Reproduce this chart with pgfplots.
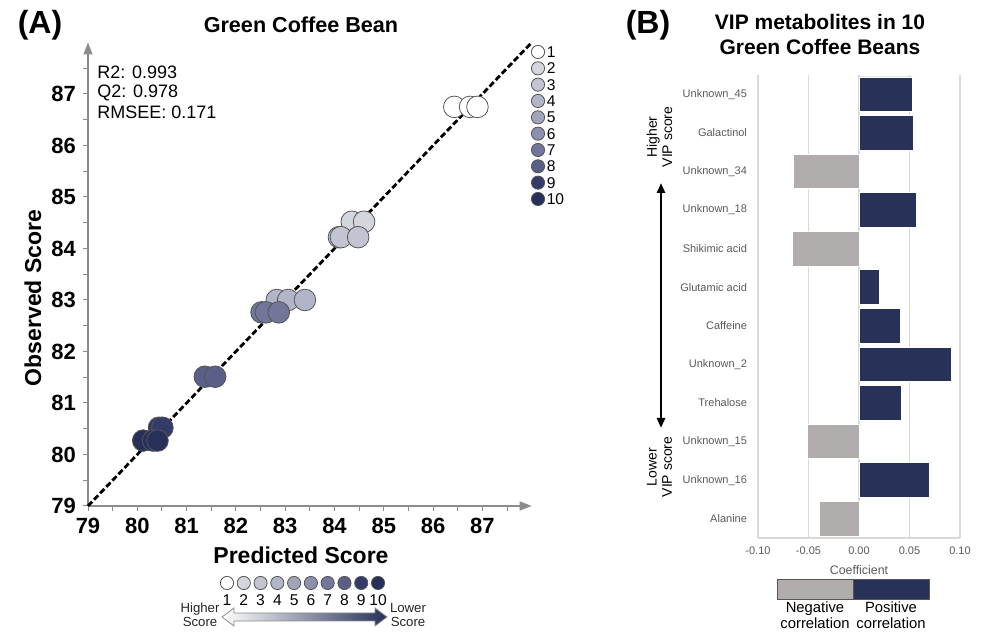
\documentclass[border=0pt]{standalone}
\usepackage{pgfplots}
\pgfplotsset{compat=1.18}
\usepackage{fontspec}
\setmainfont{Liberation Sans}
\usetikzlibrary{arrows.meta}

\definecolor{c1}{HTML}{FFFFFF}
\definecolor{c2}{HTML}{D3D5DF}
\definecolor{c3}{HTML}{C2C4D2}
\definecolor{c4}{HTML}{B2B5C7}
\definecolor{c5}{HTML}{A2A5BA}
\definecolor{c6}{HTML}{8D90AA}
\definecolor{c7}{HTML}{72769A}
\definecolor{c8}{HTML}{5A5F87}
\definecolor{c9}{HTML}{343B68}
\definecolor{c10}{HTML}{263059}
\definecolor{navy}{HTML}{283157}
\definecolor{negray}{HTML}{B0ADAC}
\definecolor{axgray}{HTML}{8C8C8C}
\definecolor{gridgray}{HTML}{D9D9D9}
\definecolor{labgray}{HTML}{595959}
\definecolor{circgray}{HTML}{555555}

\begin{document}
\begin{tikzpicture}
\path (0,0) rectangle (490.5pt,315pt);

% ---------------- Panel A ----------------
\begin{axis}[
  at={(44pt,62pt)}, anchor=south west, scale only axis,
  width=221.85pt, height=231.75pt,
  xmin=79, xmax=88, ymin=79, ymax=88,
  axis lines=left,
  axis line style={draw=axgray, line width=0.6pt, -{Triangle[length=6pt,width=4.5pt]}},
  xtick={79,...,87}, ytick={79,...,87},
  minor xtick={79.5,80.5,...,87.5}, minor ytick={79.5,80.5,...,87.5},
  tick align=outside,
  major tick length=2.5pt, minor tick length=2.5pt,
  every tick/.style={draw=axgray, line width=0.5pt},
  every minor tick/.style={draw=axgray, line width=0.5pt},
  ticklabel style={font=\fontsize{11}{12}\selectfont\bfseries, text=black},
  /pgf/number format/assume math mode=true,
  clip=false,
]
\addplot[only marks, mark=*, mark size=5.4pt, mark options={fill=white, draw=circgray, line width=0.4pt}]
  coordinates {(86.43,86.75) (86.75,86.75) (86.90,86.75)};
\addplot[black, line width=1.4pt, dash pattern=on 3pt off 1.4pt] coordinates {(79,79) (88,88)};
\addplot[only marks, mark=*, mark size=5.4pt, mark options={fill=c2, draw=circgray, line width=0.4pt}]
  coordinates {(84.35,84.52) (84.60,84.52)};
\addplot[only marks, mark=*, mark size=5.4pt, mark options={fill=c3, draw=circgray, line width=0.4pt}]
  coordinates {(84.09,84.22) (84.13,84.22) (84.48,84.22)};
\addplot[only marks, mark=*, mark size=5.4pt, mark options={fill=c4, draw=circgray, line width=0.4pt}]
  coordinates {(82.83,83.0) (83.06,83.0) (83.40,83.0)};
\addplot[only marks, mark=*, mark size=5.4pt, mark options={fill=c7, draw=circgray, line width=0.4pt}]
  coordinates {(82.52,82.76) (82.61,82.76) (82.87,82.76)};
\addplot[only marks, mark=*, mark size=5.4pt, mark options={fill=c8, draw=circgray, line width=0.4pt}]
  coordinates {(81.37,81.51) (81.58,81.51)};
\addplot[only marks, mark=*, mark size=5.4pt, mark options={fill=c9, draw=circgray, line width=0.4pt}]
  coordinates {(80.44,80.52) (80.51,80.52)};
\addplot[only marks, mark=*, mark size=5.4pt, mark options={fill=c10, draw=circgray, line width=0.4pt}]
  coordinates {(80.12,80.27) (80.32,80.27) (80.41,80.27)};
\end{axis}

% statistics text
\node[anchor=west, font=\fontsize{9}{10}\selectfont, inner sep=0pt] at (48.5pt,279pt) {R2: 0.993};
\node[anchor=west, font=\fontsize{9}{10}\selectfont, inner sep=0pt] at (48.5pt,268.5pt) {Q2: 0.978};
\node[anchor=west, font=\fontsize{9}{10}\selectfont, inner sep=0pt] at (48.5pt,259pt) {RMSEE: 0.171};

% titles and labels
\node[font=\fontsize{16}{18}\selectfont\bfseries] at (20pt,302.5pt) {(A)};
\node[font=\fontsize{16}{18}\selectfont\bfseries] at (324pt,302.5pt) {(B)};
\node[font=\fontsize{10.8}{12}\selectfont\bfseries] at (150.5pt,302.5pt) {Green Coffee Bean};
\node[font=\fontsize{11.5}{13}\selectfont\bfseries] at (150.5pt,37.5pt) {Predicted Score};
\node[font=\fontsize{11.5}{13}\selectfont\bfseries, rotate=90] at (16.5pt,166pt) {Observed Score};

% vertical class legend
\begin{axis}[
  at={(264pt,289pt)}, anchor=north west, scale only axis,
  width=10pt, height=73.5pt, xmin=0, xmax=1, ymin=1, ymax=10, y dir=reverse,
  hide axis, clip=false,
]
\pgfplotsinvokeforeach{1,...,10}{
  \addplot[only marks, mark=*, mark size=3.3pt, mark options={fill=c#1, draw=circgray, line width=0.4pt}] coordinates {(0.5,#1)};
  \node[anchor=west, inner sep=0pt, font=\fontsize{7.8}{8}\selectfont] at (axis cs:0.5,#1) [xshift=4.2pt] {#1};
}
\end{axis}

% horizontal class legend
\begin{axis}[
  at={(113.5pt,23.5pt)}, anchor=west, scale only axis,
  width=75.5pt, height=2pt, xmin=1, xmax=10, ymin=0, ymax=1,
  hide axis, clip=false,
]
\pgfplotsinvokeforeach{1,...,10}{
  \addplot[only marks, mark=*, mark size=3.3pt, mark options={fill=c#1, draw=circgray, line width=0.4pt}] coordinates {(#1,0.5)};
  \node[inner sep=0pt, font=\fontsize{7.8}{8}\selectfont] at (axis cs:#1,0.5) [yshift=-8.5pt] {#1};
}
\end{axis}

% gradient double arrow
\shade[left color=white, right color=c10, draw=axgray, line width=0.4pt]
  (111pt,6.5pt) -- (117pt,11pt) -- (117pt,8.5pt) -- (187.5pt,8.5pt) -- (187.5pt,11pt)
  -- (193.5pt,6.5pt) -- (187.5pt,2pt) -- (187.5pt,4.5pt) -- (117pt,4.5pt) -- (117pt,2pt) -- cycle;
\node[align=center, font=\fontsize{6.6}{7.2}\selectfont, text=black!85] at (100pt,7.5pt) {Higher\\Score};
\node[align=center, font=\fontsize{6.6}{7.2}\selectfont, text=black!85] at (204pt,7.5pt) {Lower\\Score};

% ---------------- Panel B ----------------
\begin{axis}[
  at={(379pt,46pt)}, anchor=south west, scale only axis,
  width=101pt, height=231.5pt,
  xmin=-0.1, xmax=0.1, ymin=-0.5, ymax=11.5, y dir=reverse,
  axis x line=bottom, axis y line=left,
  axis line style={draw=gridgray, line width=0.6pt, -},
  xmajorgrids, grid style={draw=gridgray, line width=0.6pt},
  major tick length=0pt,
  xtick={-0.1,-0.05,0,0.05,0.1},
  xticklabels={-0.10,-0.05,0.00,0.05,0.10},
  ytick={0,...,11},
  yticklabels={Unknown\_45,Galactinol,Unknown\_34,Unknown\_18,Shikimic acid,Glutamic acid,Caffeine,Unknown\_2,Trehalose,Unknown\_15,Unknown\_16,Alanine},
  ticklabel style={font=\fontsize{5.5}{6.5}\selectfont, text=labgray},
  yticklabel style={xshift=-2pt},
  xticklabel style={yshift=-1pt},
]
\addplot[xbar, bar width=0.9, bar shift=0pt, fill=navy, draw=white, line width=0.4pt]
  coordinates {(0.0530,0) (0.0535,1) (0.0564,3) (0.0205,5) (0.0409,6) (0.0918,7) (0.0416,8) (0.0696,10)};
\addplot[xbar, bar width=0.9, bar shift=0pt, fill=negray, draw=white, line width=0.4pt]
  coordinates {(-0.0647,2) (-0.0657,4) (-0.0512,9) (-0.0389,11)};
\end{axis}

\node[font=\fontsize{6.2}{7}\selectfont, text=labgray] at (429.5pt,30pt) {Coefficient};
\node[align=center, font=\fontsize{10.5}{12.5}\selectfont\bfseries] at (410pt,297.75pt) {VIP metabolites in 10\\Green Coffee Beans};

\draw[{Triangle[length=5pt,width=4pt]}-{Triangle[length=5pt,width=4pt]}, line width=1.3pt] (330.5pt,223.5pt) -- (330.5pt,101pt);
\node[align=center, rotate=90, font=\fontsize{7}{7.6}\selectfont] at (329.75pt,246.5pt) {Higher\\VIP score};
\node[align=center, rotate=90, font=\fontsize{7}{7.6}\selectfont] at (329.75pt,81.5pt) {Lower\\VIP score};

% correlation legend
\fill[negray] (388.5pt,15pt) rectangle (426.5pt,25pt);
\fill[navy] (426.5pt,15pt) rectangle (464.5pt,25pt);
\draw[circgray, line width=0.5pt] (388.5pt,15pt) rectangle (464.5pt,25pt);
\draw[circgray, line width=0.5pt] (426.5pt,15pt) -- (426.5pt,25pt);
\node[align=center, font=\fontsize{7.4}{8}\selectfont] at (407.5pt,7.5pt) {Negative\\correlation};
\node[align=center, font=\fontsize{7.4}{8}\selectfont] at (445.5pt,7.5pt) {Positive\\correlation};
\end{tikzpicture}
\end{document}
